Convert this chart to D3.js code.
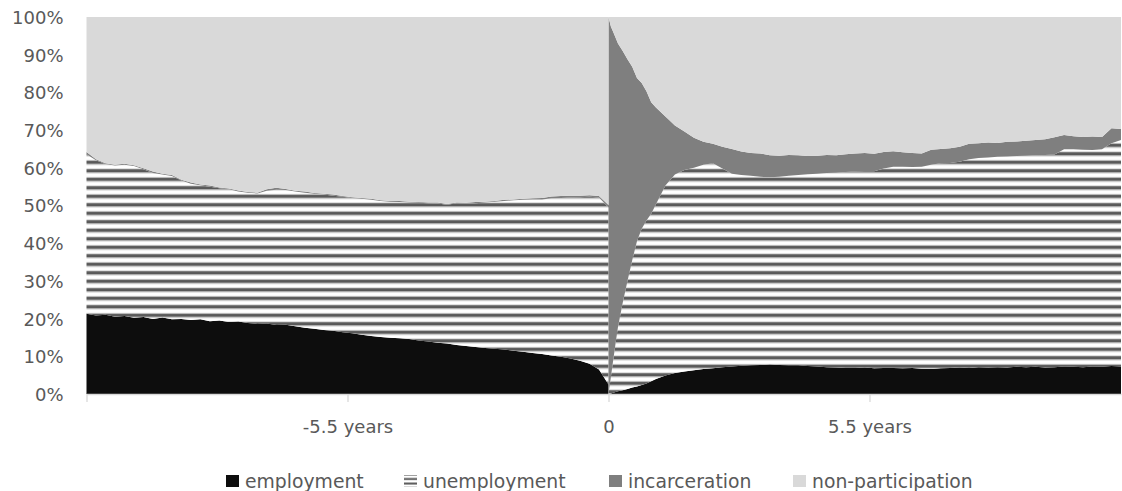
<!DOCTYPE html>
<html>
<head>
<meta charset="utf-8">
<script src="https://cdn.jsdelivr.net/npm/d3@7"></script>
<style>
  html, body { margin: 0; padding: 0; background: #ffffff; }
  svg { display: block; font-family: "DejaVu Sans", sans-serif; }
</style>
</head>
<body>
<svg id="chart" width="1122" height="491"></svg>
<script>
// Labour-market status shares (%) by years relative to release (t = 0)
const seriesKeys = ["employment", "unemployment", "incarceration", "nonParticipation"];
const seriesLabels = ["employment", "unemployment", "incarceration", "non-participation"];

// Before release
const yearsBefore = [-11, -10.8, -10.6, -10.4, -10.2, -10, -9.8, -9.6, -9.4, -9.2, -9, -8.8, -8.6, -8.4, -8.2, -8,
  -7.8, -7.6, -7.4, -7.2, -7, -6.8, -6.6, -6.4, -6.2, -6, -5.8, -5.6, -5.4, -5.2, -5, -4.8, -4.6, -4.4, -4.2, -4,
  -3.8, -3.6, -3.4, -3.2, -3, -2.8, -2.6, -2.4, -2.2, -2, -1.8, -1.6, -1.4, -1.2, -1, -0.8, -0.6, -0.4, -0.2, 0];
const employmentBefore = [21.3, 20.8, 21.0, 20.5, 20.7, 20.2, 20.4, 19.9, 20.3, 19.8, 19.9, 19.6, 19.8, 19.3, 19.5, 19.1,
  19.2, 18.8, 18.6, 18.7, 18.3, 18.4, 18.0, 17.6, 17.3, 17.0, 16.8, 16.4, 16.1, 15.7, 15.4, 15.1, 14.9, 14.8, 14.6, 14.2,
  13.9, 13.6, 13.4, 13.0, 12.7, 12.5, 12.2, 12.0, 11.8, 11.5, 11.2, 10.9, 10.6, 10.2, 9.9, 9.4, 8.8, 8.0, 6.5, 2.5];
const unemploymentBefore = [42.3, 41.2, 40.0, 40.1, 40.1, 40.3, 39.2, 38.7, 37.9, 38.0, 36.7, 36.2, 35.6, 35.7, 35.1, 35.2,
  34.5, 34.6, 34.6, 35.2, 35.9, 35.7, 35.7, 35.8, 35.8, 35.9, 35.8, 35.9, 35.9, 36.1, 36.1, 36.1, 36.1, 36.1, 36.2, 36.5,
  36.7, 36.9, 36.8, 37.6, 37.8, 38.1, 38.6, 39.0, 39.4, 39.9, 40.3, 40.7, 41.0, 41.7, 42.1, 42.7, 43.4, 44.3, 45.6, 47.0];
const incarcerationBefore = [0.6, 0.3, 0.2, 0.2, 0.3, 0.2, 0.3, 0.4, 0.2, 0.3, 0.2, 0.3, 0.2, 0.3, 0.2, 0.2,
  0.3, 0.2, 0.2, 0.4, 0.5, 0.3, 0.2, 0.3, 0.2, 0.2, 0.3, 0.2, 0.2, 0.2, 0.3, 0.2, 0.2, 0.3, 0.2, 0.2,
  0.2, 0.3, 0.2, 0.2, 0.2, 0.3, 0.2, 0.2, 0.3, 0.2, 0.3, 0.3, 0.4, 0.5, 0.5, 0.5, 0.4, 0.4, 0.4, 0.6];
const nonParticipationBefore = [35.8, 37.7, 38.8, 39.2, 38.9, 39.3, 40.1, 41.0, 41.6, 41.9, 43.2, 43.9, 44.4, 44.7, 45.2, 45.5,
  46.0, 46.4, 46.6, 45.7, 45.3, 45.6, 46.1, 46.3, 46.7, 46.9, 47.1, 47.5, 47.8, 48.0, 48.2, 48.6, 48.8, 48.8, 49.0, 49.1,
  49.2, 49.2, 49.6, 49.2, 49.3, 49.1, 49.0, 48.8, 48.5, 48.4, 48.2, 48.1, 48.0, 47.6, 47.5, 47.4, 47.4, 47.3, 47.5, 49.9];

// After release
const yearsAfter = [0, 0.05, 0.1, 0.15, 0.2, 0.3, 0.4, 0.5, 0.6, 0.7, 0.8, 0.9,
  1.0, 1.2, 1.4, 1.6, 1.8, 2.0, 2.2, 2.4, 2.6, 2.8, 3.0, 3.2, 3.4, 3.6, 3.8, 4.0, 4.2, 4.4, 4.6, 4.8,
  5.0, 5.2, 5.4, 5.6, 5.8, 6.0, 6.2, 6.4, 6.6, 6.8, 7.0, 7.2, 7.4, 7.6, 7.8, 8.0, 8.2, 8.4, 8.6, 8.8,
  9.0, 9.2, 9.4, 9.6, 9.8, 10.0, 10.2, 10.4, 10.6, 10.8];
const employmentAfter = [0, 0.1, 0.3, 0.5, 0.7, 1.0, 1.3, 1.7, 2.0, 2.4, 2.8, 3.4,
  4.0, 4.9, 5.6, 6.0, 6.3, 6.6, 6.8, 7.1, 7.3, 7.5, 7.6, 7.7, 7.8, 7.7, 7.6, 7.6, 7.4, 7.3, 7.1, 7.0,
  6.9, 6.9, 7.0, 6.8, 6.9, 6.9, 6.8, 6.9, 6.7, 6.6, 6.8, 6.9, 7.0, 6.9, 7.1, 7.0, 7.1, 7.0, 7.2, 7.1,
  7.2, 7.0, 7.1, 7.3, 7.2, 7.1, 7.3, 7.2, 7.4, 7.3];
const unemploymentAfter = [0, 4.4, 8.7, 13.0, 17.1, 23.2, 28.7, 33.8, 38.5, 41.4, 43.2, 44.4,
  46.3, 50.4, 52.6, 53.4, 53.7, 54.2, 54.4, 52.7, 51.1, 50.6, 50.3, 49.9, 49.7, 49.9, 50.3, 50.5, 50.9, 51.1, 51.5, 51.7,
  52.0, 52.1, 52.1, 52.3, 52.9, 53.4, 53.5, 53.3, 53.6, 54.2, 54.4, 54.4, 54.6, 55.4, 55.5, 55.7, 55.8, 56.0, 55.9, 56.1,
  56.1, 56.4, 56.4, 57.6, 57.7, 57.7, 57.4, 57.7, 59.1, 60.1];
const incarcerationAfter = [100, 93.0, 87.0, 81.0, 75.2, 66.8, 58.8, 51.3, 43.3, 38.7, 34.3, 29.6,
  25.7, 18.3, 13.0, 10.2, 8.0, 6.1, 5.2, 5.8, 6.6, 6.2, 6.0, 6.2, 5.8, 5.6, 5.5, 5.2, 4.8, 4.8, 4.8, 4.6,
  4.7, 4.8, 4.8, 4.6, 4.4, 4.1, 3.8, 3.7, 3.5, 4.0, 3.8, 3.9, 4.0, 4.1, 3.9, 4.0, 3.7, 3.9, 3.9, 4.0,
  4.1, 4.2, 4.6, 3.8, 3.5, 3.4, 3.6, 3.3, 4.0, 2.9];
const nonParticipationAfter = [0, 2.5, 4.0, 5.5, 7.0, 9.0, 11.2, 13.2, 16.2, 17.5, 19.7, 22.6,
  24.0, 26.4, 28.8, 30.4, 32.0, 33.1, 33.6, 34.4, 35.0, 35.7, 36.1, 36.2, 36.7, 36.8, 36.6, 36.7, 36.9, 36.8, 36.6, 36.7,
  36.4, 36.2, 36.1, 36.3, 35.8, 35.6, 35.9, 36.1, 36.2, 35.2, 35.0, 34.8, 34.4, 33.6, 33.5, 33.3, 33.4, 33.1, 33.0, 32.8,
  32.6, 32.4, 31.9, 31.3, 31.6, 31.8, 31.7, 31.8, 29.5, 29.7];

// Axis labels
const yTickValues = [0, 10, 20, 30, 40, 50, 60, 70, 80, 90, 100];
const xTickValues = [-11, -5.5, 0, 5.5];
const xTickLabels = ["", "-5.5 years", "0", "5.5 years"];

// Styling
const fills = {
  employment: "#0d0d0d",
  unemployment: "url(#stripes)",
  incarceration: "#7f7f7f",
  nonParticipation: "#d9d9d9"
};
const textColor = "#595959";
const fontSize = "18px";
const legendFontSize = "18.8px";

const svg = d3.select("#chart");
const plot = { left: 86.5, right: 1121, top: 17, bottom: 394 };

const x = d3.scaleLinear().domain([-11, 10.8]).range([plot.left, plot.right]);
const y = d3.scaleLinear().domain([0, 100]).range([plot.bottom, plot.top]);

// Horizontal hatch used for unemployment
const defs = svg.append("defs");
const stripes = defs.append("pattern")
  .attr("id", "stripes")
  .attr("patternUnits", "userSpaceOnUse")
  .attr("x", 0).attr("y", 6.8)
  .attr("width", 20).attr("height", 8.5);
stripes.append("rect").attr("width", 20).attr("height", 8.5).attr("fill", "#ffffff");
stripes.append("rect").attr("y", 0).attr("width", 20).attr("height", 1).attr("fill", "#d4d4d4");
stripes.append("rect").attr("y", 1).attr("width", 20).attr("height", 3).attr("fill", "#595959");
stripes.append("rect").attr("y", 4).attr("width", 20).attr("height", 1).attr("fill", "#a8a8a8");

const legendStripes = defs.append("pattern")
  .attr("id", "legendStripes")
  .attr("patternUnits", "userSpaceOnUse")
  .attr("x", 0).attr("y", 475)
  .attr("width", 20).attr("height", 4.5);
legendStripes.append("rect").attr("width", 20).attr("height", 4.5).attr("fill", "#ffffff");
legendStripes.append("rect").attr("y", 0.5).attr("width", 20).attr("height", 2).attr("fill", "#595959");

// Rows for stacking
function buildRows(years, emp, unemp, inc, nonp) {
  return years.map((year, i) => ({
    year,
    employment: emp[i],
    unemployment: unemp[i],
    incarceration: inc[i],
    nonParticipation: nonp[i]
  }));
}
const rows = buildRows(yearsBefore, employmentBefore, unemploymentBefore, incarcerationBefore, nonParticipationBefore)
  .concat(buildRows(yearsAfter, employmentAfter, unemploymentAfter, incarcerationAfter, nonParticipationAfter));

const stacked = d3.stack().keys(seriesKeys)(rows);

const area = d3.area()
  .x(d => x(d.data.year))
  .y0(d => y(d[0]))
  .y1(d => y(d[1]));

svg.append("g")
  .selectAll("path")
  .data(stacked)
  .join("path")
  .attr("d", area)
  .attr("fill", d => fills[d.key]);

// Y axis (labels only)
const yAxis = svg.append("g")
  .attr("transform", `translate(${plot.left},0)`)
  .call(d3.axisLeft(y).tickValues(yTickValues).tickSize(0).tickPadding(23).tickFormat(d => d + "%"));
yAxis.select(".domain").remove();
yAxis.selectAll("text")
  .attr("fill", textColor)
  .attr("font-size", fontSize)
  .attr("font-family", "DejaVu Sans, sans-serif")
  .attr("dy", "0.36em");

// X axis
const xAxis = svg.append("g")
  .attr("transform", `translate(0,${plot.bottom})`)
  .call(d3.axisBottom(x).tickValues(xTickValues).tickSize(8).tickSizeOuter(0)
    .tickFormat((d, i) => xTickLabels[i]));
xAxis.select(".domain").attr("stroke", "#d9d9d9").attr("stroke-width", 1.3);
xAxis.selectAll(".tick line").attr("stroke", "#d9d9d9").attr("stroke-width", 1.3);
xAxis.selectAll("text")
  .attr("fill", textColor)
  .attr("font-size", fontSize)
  .attr("font-family", "DejaVu Sans, sans-serif")
  .attr("y", 26);

// Legend
const legendItems = [
  { key: "employment", x: 226, fill: fills.employment },
  { key: "unemployment", x: 404, fill: "url(#legendStripes)" },
  { key: "incarceration", x: 609, fill: fills.incarceration },
  { key: "nonParticipation", x: 793, fill: fills.nonParticipation }
];
const legend = svg.append("g");
const li = legend.selectAll("g")
  .data(legendItems)
  .join("g")
  .attr("transform", d => `translate(${d.x},475)`);
li.append("rect")
  .attr("width", 13).attr("height", 12)
  .attr("fill", d => d.fill);
li.append("text")
  .attr("x", 19).attr("y", 6)
  .attr("dy", "0.36em")
  .attr("fill", textColor)
  .attr("font-size", legendFontSize)
  .text(d => seriesLabels[seriesKeys.indexOf(d.key)]);
</script>
</body>
</html>
